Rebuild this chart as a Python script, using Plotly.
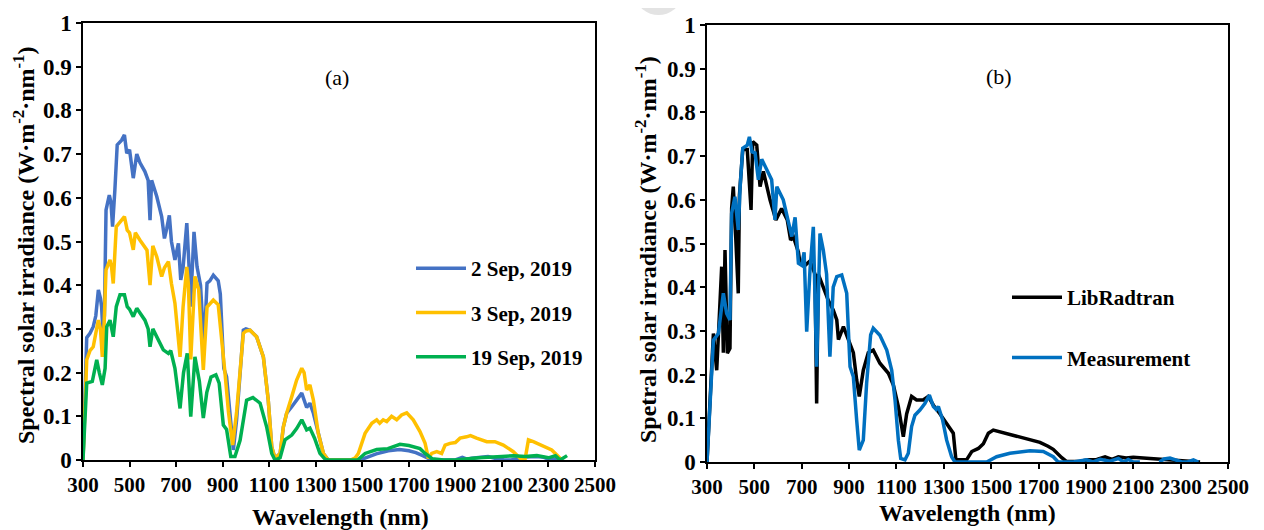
import plotly.graph_objects as go

# ---------------- Panel (a) data ----------------
sep2_wl = [300, 316, 330, 344, 355, 366, 375, 380, 385, 392, 399, 413, 420, 427, 437, 447, 466, 478, 488, 500,
           516, 531, 545, 566, 580, 588, 595, 617, 638, 650, 660, 671, 680, 695, 710, 720, 730, 746, 755, 762,
           777, 790, 805, 820, 833, 845, 860, 881, 890, 896, 905, 917, 932, 946, 960, 975, 989, 1000, 1018, 1046,
           1075, 1096, 1111, 1125, 1147, 1161, 1175, 1197, 1218, 1240, 1261, 1275, 1290, 1311, 1333, 1354, 1400,
           1450, 1490, 1520, 1560, 1612, 1660, 1700, 1730, 1760, 1790, 1810, 1850, 1900, 1930, 1950, 1970, 2000,
           2040, 2070, 2110, 2140, 2170, 2200, 2250, 2280, 2310, 2340, 2360]
sep2_irr = [0.0, 0.28, 0.29, 0.305, 0.33, 0.389, 0.37, 0.35, 0.30, 0.33, 0.572, 0.606, 0.59, 0.534, 0.618, 0.721,
            0.732, 0.744, 0.702, 0.71, 0.645, 0.70, 0.68, 0.66, 0.64, 0.549, 0.64, 0.603, 0.557, 0.507, 0.53, 0.56,
            0.50, 0.458, 0.496, 0.412, 0.44, 0.542, 0.45, 0.351, 0.522, 0.442, 0.40, 0.259, 0.405, 0.41, 0.423,
            0.41, 0.38, 0.305, 0.21, 0.19, 0.107, 0.023, 0.092, 0.20, 0.297, 0.30, 0.297, 0.282, 0.236, 0.137,
            0.03, 0.004, 0.015, 0.076, 0.107, 0.122, 0.137, 0.153, 0.12, 0.13, 0.107, 0.061, 0.015, 0.0, 0.0,
            0.0, 0.0, 0.006, 0.014, 0.021, 0.024, 0.021, 0.017, 0.010, 0.002, 0.0, 0.0, 0.0, 0.006, 0.002, 0.004,
            0.006, 0.008, 0.004, 0.0, 0.0, 0.004, 0.007, 0.008, 0.006, 0.0, 0.004, 0.0]

sep3_wl = [300, 316, 330, 344, 355, 366, 375, 383, 390, 399, 416, 423, 430, 443, 466, 478, 490, 500, 516, 525,
           545, 560, 575, 588, 600, 617, 638, 650, 667, 680, 695, 717, 730, 746, 753, 763, 781, 797, 817, 833,
           860, 881, 896, 910, 925, 943, 960, 989, 1000, 1018, 1046, 1075, 1096, 1111, 1125, 1147, 1161, 1175,
           1197, 1218, 1240, 1250, 1261, 1275, 1290, 1311, 1333, 1354, 1450, 1470, 1483, 1512, 1541, 1562, 1575,
           1590, 1605, 1626, 1648, 1669, 1691, 1719, 1748, 1770, 1784, 1798, 1820, 1841, 1856, 1877, 1900, 1920,
           1948, 1965, 1991, 2035, 2070, 2106, 2149, 2178, 2199, 2214, 2235, 2278, 2314, 2335, 2357]
sep3_irr = [0.0, 0.229, 0.25, 0.259, 0.29, 0.32, 0.30, 0.236, 0.30, 0.435, 0.458, 0.44, 0.404, 0.534, 0.549,
            0.557, 0.526, 0.52, 0.481, 0.52, 0.503, 0.49, 0.48, 0.40, 0.49, 0.465, 0.42, 0.44, 0.454, 0.404,
            0.359, 0.236, 0.35, 0.442, 0.40, 0.23, 0.42, 0.39, 0.206, 0.35, 0.366, 0.355, 0.28, 0.20, 0.11,
            0.034, 0.11, 0.29, 0.295, 0.297, 0.282, 0.236, 0.137, 0.03, 0.004, 0.015, 0.076, 0.107, 0.145,
            0.183, 0.21, 0.20, 0.16, 0.172, 0.137, 0.061, 0.015, 0.0, 0.0, 0.005, 0.015, 0.061, 0.084, 0.092,
            0.084, 0.092, 0.088, 0.10, 0.092, 0.103, 0.108, 0.092, 0.065, 0.038, 0.004, 0.015, 0.019, 0.015,
            0.034, 0.038, 0.04, 0.05, 0.053, 0.056, 0.05, 0.042, 0.042, 0.034, 0.019, 0.004, 0.0, 0.046, 0.042,
            0.032, 0.023, 0.012, 0.0]

sep19_wl = [300, 316, 340, 359, 370, 383, 395, 402, 416, 430, 443, 459, 478, 490, 500, 516, 531, 566, 580, 588,
            600, 624, 645, 667, 677, 695, 717, 732, 748, 763, 781, 800, 817, 832, 850, 871, 885, 903, 917, 935,
            953, 975, 1003, 1030, 1061, 1089, 1111, 1125, 1147, 1168, 1197, 1218, 1240, 1261, 1275, 1295, 1318,
            1340, 1354, 1480, 1512, 1562, 1610, 1662, 1700, 1748, 1770, 1800, 1850, 1900, 1950, 2000, 2100, 2150,
            2200, 2250, 2300, 2330, 2350, 2370, 2380]
sep19_irr = [0.0, 0.176, 0.18, 0.229, 0.2, 0.172, 0.21, 0.305, 0.32, 0.282, 0.351, 0.378, 0.378, 0.351, 0.345,
             0.328, 0.347, 0.32, 0.30, 0.259, 0.30, 0.275, 0.252, 0.244, 0.25, 0.21, 0.118, 0.20, 0.244, 0.099,
             0.236, 0.18, 0.096, 0.155, 0.19, 0.195, 0.176, 0.08, 0.07, 0.008, 0.008, 0.045, 0.137, 0.143, 0.13,
             0.076, 0.015, 0.0, 0.005, 0.046, 0.057, 0.072, 0.092, 0.069, 0.073, 0.05, 0.015, 0.002, 0.0, 0.0,
             0.015, 0.024, 0.026, 0.036, 0.033, 0.026, 0.015, 0.003, 0.0, 0.0, 0.003, 0.005, 0.008, 0.01, 0.008,
             0.01, 0.005, 0.01, 0.0, 0.008, 0.01]

# ---------------- Panel (b) data ----------------
lib_wl = [300, 327, 334, 341, 350, 362, 369, 376, 386, 397, 404, 411, 420, 432, 437, 451, 470, 486, 493, 510,
          524, 538, 566, 591, 615, 639, 653, 665, 686, 693, 714, 735, 756, 763, 770, 791, 812, 833, 848, 855,
          876, 897, 918, 932, 943, 960, 981, 1002, 1030, 1066, 1087, 1108, 1129, 1143, 1164, 1185, 1213, 1234,
          1256, 1284, 1312, 1340, 1351, 1396, 1418, 1446, 1467, 1488, 1509, 1537, 1565, 1622, 1664, 1706, 1740,
          1762, 1798, 1819, 1875, 1910, 1946, 1981, 2010, 2037, 2070, 2100, 2171, 2241, 2311, 2382]
lib_irr = [0.0, 0.294, 0.25, 0.21, 0.31, 0.447, 0.25, 0.485, 0.249, 0.26, 0.58, 0.63, 0.53, 0.386, 0.61, 0.715,
           0.715, 0.577, 0.733, 0.725, 0.63, 0.665, 0.60, 0.554, 0.58, 0.554, 0.508, 0.515, 0.48, 0.455, 0.45,
           0.46, 0.43, 0.134, 0.43, 0.40, 0.37, 0.348, 0.325, 0.28, 0.31, 0.28, 0.25, 0.188, 0.15, 0.21, 0.25,
           0.256, 0.226, 0.203, 0.176, 0.127, 0.058, 0.11, 0.15, 0.142, 0.142, 0.15, 0.13, 0.11, 0.088, 0.066,
           0.005, 0.005, 0.024, 0.031, 0.042, 0.066, 0.073, 0.069, 0.066, 0.058, 0.05, 0.045, 0.036, 0.029,
           0.010, 0.001, 0.002, 0.005, 0.006, 0.012, 0.006, 0.012, 0.009, 0.011, 0.008, 0.006, 0.004, 0.0]

meas_wl = [300, 327, 348, 369, 383, 397, 404, 418, 432, 440, 451, 470, 479, 490, 503, 517, 531, 552, 573, 587,
           595, 622, 640, 658, 672, 686, 700, 710, 721, 735, 749, 763, 777, 791, 805, 819, 833, 848, 869, 890,
           904, 918, 932, 943, 960, 974, 991, 1002, 1030, 1059, 1080, 1094, 1108, 1118, 1136, 1150, 1164, 1178,
           1199, 1220, 1239, 1256, 1268, 1277, 1295, 1312, 1333, 1347, 1481, 1523, 1579, 1664, 1720, 1762, 1783,
           1847, 1903, 1930, 1960, 2002, 2037, 2060, 2079, 2100, 2128, 2170, 2210, 2230, 2255, 2283, 2304, 2330,
           2354, 2375]
meas_irr = [0.0, 0.279, 0.294, 0.386, 0.34, 0.325, 0.569, 0.607, 0.531, 0.63, 0.718, 0.725, 0.744, 0.71, 0.707,
            0.646, 0.693, 0.67, 0.646, 0.554, 0.63, 0.60, 0.554, 0.516, 0.56, 0.455, 0.45, 0.48, 0.298, 0.44,
            0.538, 0.218, 0.523, 0.485, 0.43, 0.241, 0.40, 0.424, 0.428, 0.386, 0.218, 0.195, 0.096, 0.027, 0.05,
            0.18, 0.291, 0.306, 0.29, 0.256, 0.21, 0.142, 0.05, 0.008, 0.005, 0.02, 0.081, 0.107, 0.119, 0.134,
            0.153, 0.127, 0.12, 0.127, 0.096, 0.05, 0.012, 0.0, 0.0, 0.012, 0.02, 0.026, 0.024, 0.012, 0.0, 0.0,
            0.005, 0.0, 0.006, 0.002, 0.008, 0.0, 0.006, 0.0, 0.0, None, 0.0, 0.007, 0.009, 0.005, 0.0, 0.0,
            0.005, 0.0]

x_ticks = [300, 500, 700, 900, 1100, 1300, 1500, 1700, 1900, 2100, 2300, 2500]
y_ticks = [0, 0.1, 0.2, 0.3, 0.4, 0.5, 0.6, 0.7, 0.8, 0.9, 1]

FONT = "Liberation Serif"
OFF = 8                 # page body margin
W, H = 1264 - OFF, 530 - OFF


def px(xp):             # page x pixel -> paper fraction
    return (xp - OFF) / W


def py(yp):             # page y pixel -> paper fraction
    return 1 - (yp - OFF) / H


fig = go.Figure()


def add(x, y, name, color, xa, ya, legend, group):
    fig.add_trace(go.Scatter(x=x, y=y, mode="lines", name=name, line=dict(color=color, width=3.5),
                             xaxis=xa, yaxis=ya, legend=legend, legendgroup=group,
                             connectgaps=False))


add(sep2_wl, sep2_irr, "2 Sep, 2019", "#4472C4", "x", "y", "legend", "a1")
add(sep3_wl, sep3_irr, "3 Sep, 2019", "#FFC000", "x", "y", "legend", "a2")
add(sep19_wl, sep19_irr, "19 Sep, 2019", "#00B050", "x", "y", "legend", "a3")
add(lib_wl, lib_irr, "LibRadtran", "#000000", "x2", "y2", "legend2", "b1")
add(meas_wl, meas_irr, "Measurement", "#0070C0", "x2", "y2", "legend2", "b2")

xtickfont = dict(family=FONT, size=21, color="black", weight="bold")
ytickfont = dict(family=FONT, size=23, color="black", weight="bold")


def xaxis(domain, anchor):
    return dict(domain=domain, anchor=anchor, range=[300, 2500], tickvals=x_ticks, automargin=False,
                showline=True, linecolor="black", linewidth=1.5, mirror=True,
                ticks="outside", ticklen=5, tickwidth=1.5, tickcolor="black",
                showgrid=False, zeroline=False, tickfont=xtickfont)


def yaxis(domain, anchor):
    return dict(domain=domain, anchor=anchor, range=[0, 1], tickvals=y_ticks, automargin=False,
                showline=True, linecolor="black", linewidth=1.5, mirror=True,
                ticks="outside", ticklen=5, tickwidth=1.5, tickcolor="black",
                showgrid=False, zeroline=False, tickfont=ytickfont)


legfont = dict(family=FONT, size=21, color="black", weight="bold")


def label(text, x, y, size, bold=False, angle=0):
    f = dict(family=FONT, size=size, color="black")
    if bold:
        f["weight"] = "bold"
    return dict(text=text, x=px(x), y=py(y), xref="paper", yref="paper", showarrow=False,
                textangle=angle, font=f, xanchor="center", yanchor="middle")


fig.update_layout(
    width=W, height=H, autosize=False,
    margin=dict(l=0, r=0, t=0, b=0),
    paper_bgcolor="white", plot_bgcolor="white",
    xaxis=xaxis([px(83), px(595)], "y"),
    yaxis=yaxis([py(460), py(23)], "x"),
    xaxis2=xaxis([px(707), px(1228)], "y2"),
    yaxis2=yaxis([py(462), py(25)], "x2"),
    legend=dict(x=px(411), y=py(248), xanchor="left", yanchor="top", font=legfont,
                bgcolor="rgba(0,0,0,0)", tracegroupgap=14, itemwidth=50, traceorder="grouped"),
    legend2=dict(x=px(1007), y=py(277), xanchor="left", yanchor="top", font=legfont,
                 bgcolor="rgba(0,0,0,0)", tracegroupgap=30, itemwidth=50, traceorder="grouped"),
    annotations=[
        label("(a)", 337, 77, 22),
        label("(b)", 999, 76, 22),
        label("Wavelength (nm)", 340, 517, 24, bold=True),
        label("Wavelength (nm)", 967, 513, 24, bold=True),
        label("Spectral solar irradiance (W·m<sup>-2</sup>·nm<sup>-1</sup>)", 24, 246, 24, bold=True, angle=-90),
        label("Spetral solar irradiance (W·m<sup>-2</sup>·nm<sup>-1</sup>)", 646, 250, 24, bold=True, angle=-90),
    ],
    shapes=[dict(type="circle", xref="paper", yref="paper", x0=px(637), x1=px(680),
                 y0=py(15), y1=py(-20), fillcolor="#e3e3e3", line=dict(width=0), layer="below")],
    showlegend=True,
)

fig.write_html("out.html")
